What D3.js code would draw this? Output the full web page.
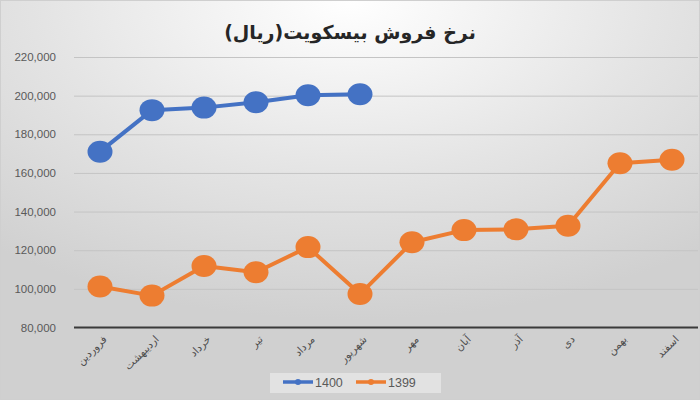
<!DOCTYPE html>
<html>
<head>
<meta charset="utf-8">
<script src="https://cdn.jsdelivr.net/npm/d3@7"></script>
<style>
  html, body { margin: 0; padding: 0; }
  svg { display: block; }
</style>
</head>
<body>
<svg id="chart" width="700" height="400"></svg>
<script>
const months = ["فروردین","اردیبهشت","خرداد","تیر","مرداد","شهریور","مهر","آبان","آذر","دی","بهمن","اسفند"];
const series1400 = [171000, 192500, 193800, 196600, 200200, 200700];
const series1399 = [101200, 96500, 111800, 108600, 121600, 97300, 124100, 130400, 130800, 132700, 165000, 166800];
const yTicks = [80000, 100000, 120000, 140000, 160000, 180000, 200000, 220000];
const titleText = "نرخ فروش بیسکویت(ریال)";
const seriesNames = ["1400", "1399"];
const colors = ["#4472C4", "#ED7D31"];

const svg = d3.select("#chart");
const W = 700, H = 400;

// background gradient
const defs = svg.append("defs");
const rg = defs.append("radialGradient").attr("id", "bg")
  .attr("cx", "50%").attr("cy", "0%").attr("r", "80%")
  .attr("gradientUnits", "objectBoundingBox");
rg.append("stop").attr("offset", "0%").attr("stop-color", "#ffffff");
rg.append("stop").attr("offset", "55%").attr("stop-color", "#e4e4e4");
rg.append("stop").attr("offset", "100%").attr("stop-color", "#d0d0d0");
svg.append("rect").attr("width", W).attr("height", H).attr("fill", "url(#bg)");
svg.append("rect").attr("x", 0.5).attr("y", 0.5).attr("width", W - 1).attr("height", H - 1)
  .attr("fill", "none").attr("stroke", "#cfcfcf");

const x = d3.scaleBand().domain(months).range([74, 698]);
const cx = m => x(m) + x.bandwidth() / 2;
const y = d3.scaleLinear().domain([80000, 220000]).range([327.5, 57]);

// gridlines
const grid = svg.append("g")
  .attr("transform", "translate(74,0)")
  .call(d3.axisLeft(y).tickValues(yTicks).tickSize(-624).tickFormat(""));
grid.select(".domain").remove();
grid.selectAll(".tick line").attr("stroke", "#c4c4c4").attr("stroke-width", 1);

// y labels
const yAxis = svg.append("g")
  .attr("transform", "translate(74,0)")
  .call(d3.axisLeft(y).tickValues(yTicks).tickSize(0).tickPadding(18).tickFormat(d3.format(",")));
yAxis.select(".domain").remove();
yAxis.selectAll("text").attr("fill", "#595959")
  .style("font-family", "'Liberation Sans', Arial, sans-serif").style("font-size", "11.5px");

// x axis line
svg.append("line").attr("x1", 74).attr("x2", 698).attr("y1", y(80000)).attr("y2", y(80000))
  .attr("stroke", "#3a3a3a").attr("stroke-width", 2);

// x labels
const xAxis = svg.append("g").attr("transform", `translate(0,${y(80000)})`)
  .call(d3.axisBottom(x).tickSize(0).tickFormat(d => d));
xAxis.select(".domain").remove();
xAxis.selectAll(".tick text")
  .attr("text-anchor", "end")
  .attr("transform", "translate(3,8) rotate(-45)")
  .attr("dy", "0.6em")
  .attr("y", 0)
  .attr("fill", "#4d4d4d")
  .style("font-family", "'DejaVu Sans', sans-serif").style("font-size", "10.5px");

// lines
const allSeries = [series1400, series1399];
allSeries.forEach((vals, i) => {
  const pts = vals.map((v, j) => [cx(months[j]), y(v)]);
  svg.append("path").attr("d", d3.line()(pts))
    .attr("fill", "none").attr("stroke", colors[i]).attr("stroke-width", 4)
    .attr("stroke-linejoin", "round");
  svg.append("g").selectAll("ellipse").data(pts).join("ellipse")
    .attr("cx", d => d[0]).attr("cy", d => d[1])
    .attr("rx", 12.5).attr("ry", 11)
    .attr("fill", colors[i]);
});

// title
svg.append("text").attr("x", 350).attr("y", 39).attr("text-anchor", "middle")
  .attr("fill", "#262626")
  .style("font-family", "'DejaVu Sans', sans-serif").style("font-weight", "bold").style("font-size", "19px")
  .text(titleText);

// legend
const lg = svg.append("g");
lg.append("rect").attr("x", 270).attr("y", 373).attr("width", 171).attr("height", 20)
  .attr("fill", "#e2e2e2");
const legendX = [283, 356];
seriesNames.forEach((name, i) => {
  const lx = legendX[i];
  lg.append("line").attr("x1", lx).attr("x2", lx + 30).attr("y1", 382).attr("y2", 382)
    .attr("stroke", colors[i]).attr("stroke-width", 3.5);
  lg.append("circle").attr("cx", lx + 15).attr("cy", 382).attr("r", 3).attr("fill", colors[i]);
  lg.append("text").attr("x", lx + 32).attr("y", 386.5)
    .attr("fill", "#595959")
    .style("font-family", "'Liberation Sans', Arial, sans-serif").style("font-size", "12.5px")
    .text(name);
});
</script>
</body>
</html>
